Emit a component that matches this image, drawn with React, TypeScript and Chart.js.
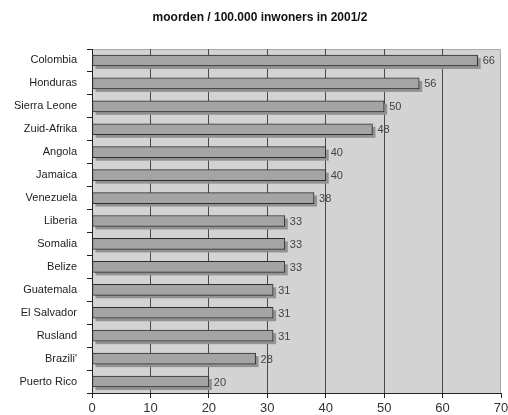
import React, { useEffect, useRef } from "react";
import { Chart, registerables } from "chart.js";

Chart.register(...registerables);

const titleText = "moorden / 100.000 inwoners in 2001/2";
const categories = [
  "Colombia",
  "Honduras",
  "Sierra Leone",
  "Zuid-Afrika",
  "Angola",
  "Jamaica",
  "Venezuela",
  "Liberia",
  "Somalia",
  "Belize",
  "Guatemala",
  "El Salvador",
  "Rusland",
  "Brazili'",
  "Puerto Rico",
];
const values = [66, 56, 50, 48, 40, 40, 38, 33, 33, 33, 31, 31, 31, 28, 20];
const xMin = 0;
const xMax = 70;
const xStep = 10;

const FONT = "'Liberation Sans', Arial, sans-serif";

export default function App() {
  const ref = useRef<HTMLCanvasElement | null>(null);

  useEffect(() => {
    document.body.style.margin = "0";
    const canvas = ref.current!;
    const bgPlugin = {
      id: "plotBg",
      beforeDraw(chart: any) {
        const { ctx, chartArea: a } = chart;
        ctx.save();
        ctx.fillStyle = "#ffffff";
        ctx.fillRect(0, 0, chart.width, chart.height);
        ctx.fillStyle = "#d3d3d3";
        ctx.fillRect(a.left, a.top, a.right - a.left, a.bottom - a.top);
        ctx.strokeStyle = "#a8a8a8";
        ctx.lineWidth = 1;
        ctx.beginPath();
        ctx.moveTo(a.left, a.top + 0.5);
        ctx.lineTo(a.right - 0.5, a.top + 0.5);
        ctx.lineTo(a.right - 0.5, a.bottom);
        ctx.stroke();
        ctx.fillStyle = "#111";
        ctx.font = `bold 12px ${FONT}`;
        ctx.textAlign = "center";
        ctx.textBaseline = "middle";
        ctx.fillText(titleText, 260, 18);
        ctx.restore();
      },
    };
    const shadowPlugin = {
      id: "barShadow",
      beforeDatasetsDraw(chart: any) {
        const ctx = chart.ctx;
        const meta = chart.getDatasetMeta(0);
        ctx.save();
        ctx.fillStyle = "#929292";
        meta.data.forEach((el: any) => {
          const h = el.height;
          ctx.fillRect(el.base + 3, el.y - h / 2 + 3, el.x - el.base, h);
        });
        ctx.restore();
      },
    };
    const labelPlugin = {
      id: "valueLabels",
      afterDatasetsDraw(chart: any) {
        const ctx = chart.ctx;
        const meta = chart.getDatasetMeta(0);
        ctx.save();
        ctx.fillStyle = "#444";
        ctx.font = `11px ${FONT}`;
        ctx.textAlign = "left";
        ctx.textBaseline = "middle";
        meta.data.forEach((el: any, i: number) => {
          ctx.fillText(String(values[i]), el.x + 5, el.y + 1);
        });
        ctx.restore();
      },
    };

    const chart = new Chart(canvas, {
      type: "bar",
      data: {
        labels: categories,
        datasets: [
          {
            data: values,
            backgroundColor: "#a4a4a4",
            borderColor: "#2e2e2e",
            borderWidth: 1,
            borderSkipped: false,
            barThickness: 11,
          },
        ],
      },
      options: {
        indexAxis: "y",
        animation: false,
        responsive: false,
        devicePixelRatio: 1,
        layout: { padding: { top: 49, right: 7, left: 0, bottom: 0 } },
        plugins: {
          legend: { display: false },
          title: { display: false },
          tooltip: { enabled: false },
        },
        scales: {
          x: {
            min: xMin,
            max: xMax,
            ticks: {
              stepSize: xStep,
              color: "#333",
              font: { family: FONT, size: 13 },
              padding: 3,
            },
            grid: {
              color: (c: any) =>
                c.tick && (c.tick.value === xMax || c.tick.value === xMin)
                  ? "rgba(0,0,0,0)"
                  : "#4a4a4a",
              tickColor: "#222",
              tickLength: 5,
              lineWidth: 1,
            },
            border: { display: true, color: "#222", width: 1 },
            afterFit: (s: any) => {
              s.height = 22;
              s.paddingRight = 0;
              s.paddingLeft = 0;
            },
          },
          y: {
            offset: true,
            ticks: {
              color: "#222",
              font: { family: FONT, size: 11 },
              padding: 10,
            },
            grid: {
              offset: true,
              drawOnChartArea: false,
              tickColor: "#222",
              tickLength: 5,
            },
            border: { display: true, color: "#222", width: 1 },
            afterFit: (s: any) => {
              s.width = 92;
            },
          },
        },
      },
      plugins: [bgPlugin, shadowPlugin, labelPlugin],
    });
    return () => chart.destroy();
  }, []);

  return (
    <div style={{ width: 508, height: 415 }}>
      <canvas ref={ref} width={508} height={415} />
    </div>
  );
}
